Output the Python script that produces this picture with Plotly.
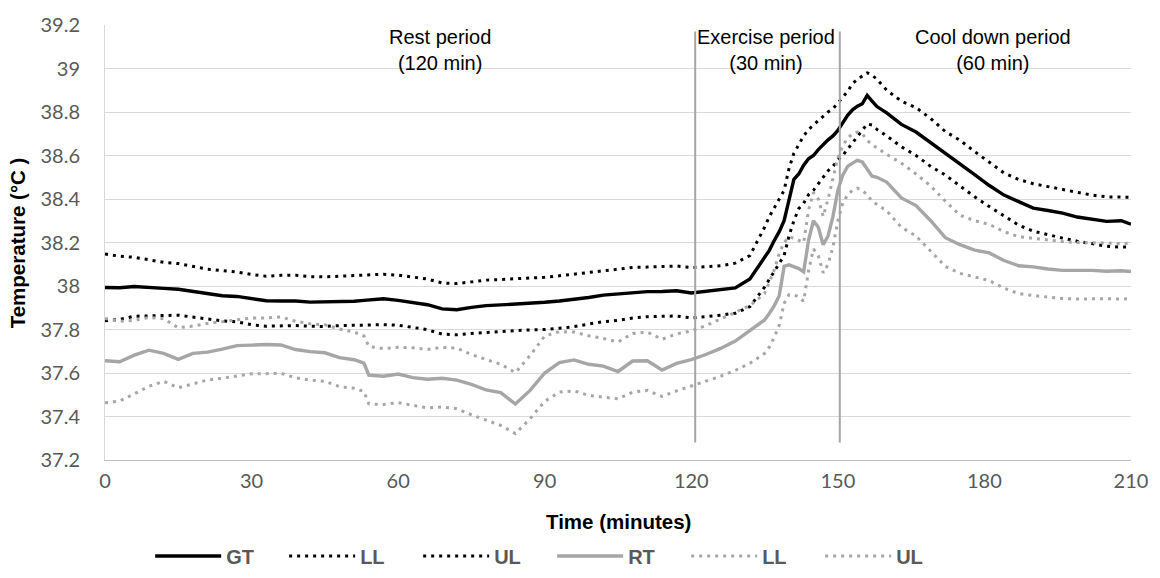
import plotly.graph_objects as go

# ---------------- data ----------------
time_min = [0, 3, 6, 9, 12, 15, 18, 21, 24, 27, 30, 33, 36, 39, 42, 45, 48, 51, 53,
            54, 57, 60, 63, 66, 69, 72, 75, 78, 81, 84, 87, 90, 93, 96, 99, 102, 105,
            108, 111, 114, 117, 120, 123, 126, 129, 132, 135,
            136, 137, 138, 139, 140, 141, 142, 143, 144, 145, 146, 147, 148, 149, 150,
            151, 152, 153, 154, 155, 156, 157, 158,
            160, 163, 166, 169, 172, 175, 178, 181, 184, 187, 190, 193, 196, 199, 202,
            205, 208, 210]

gt = [37.993, 37.992, 37.998, 37.992, 37.989, 37.985, 37.975, 37.964, 37.955, 37.952,
      37.942, 37.932, 37.931, 37.931, 37.926, 37.927, 37.929, 37.930, 37.934,
      37.936, 37.941, 37.934, 37.925, 37.914, 37.895, 37.891, 37.902, 37.910, 37.913,
      37.916, 37.920, 37.925, 37.931, 37.938, 37.947, 37.958, 37.963,
      37.971, 37.974, 37.975, 37.978, 37.968, 37.975, 37.984, 37.991, 38.032, 38.130,
      38.165, 38.210, 38.250, 38.300, 38.400, 38.490, 38.515, 38.555, 38.585, 38.600,
      38.627, 38.650, 38.672, 38.690, 38.715,
      38.750, 38.785, 38.810, 38.827, 38.838, 38.876, 38.850, 38.825,
      38.796, 38.743, 38.708, 38.660, 38.610, 38.560, 38.512, 38.462, 38.418, 38.388,
      38.358, 38.347, 38.335, 38.317, 38.308, 38.297, 38.300, 38.284]

gt_ll = [37.840, 37.846, 37.861, 37.863, 37.866, 37.866, 37.857, 37.848, 37.840, 37.835,
         37.822, 37.815, 37.816, 37.818, 37.815, 37.814, 37.818, 37.820, 37.821,
         37.822, 37.822, 37.820, 37.810, 37.799, 37.779, 37.776, 37.782, 37.787, 37.792,
         37.795, 37.798, 37.800, 37.806, 37.813, 37.825, 37.836, 37.842,
         37.853, 37.859, 37.859, 37.862, 37.853, 37.858, 37.866, 37.875, 37.905, 37.995,
         38.030, 38.070, 38.100, 38.140, 38.230, 38.300, 38.356, 38.380, 38.420, 38.440,
         38.470, 38.500, 38.530, 38.550, 38.580,
         38.600, 38.630, 38.655, 38.690, 38.720, 38.745, 38.740, 38.720,
         38.690, 38.640, 38.600, 38.550, 38.510, 38.458, 38.410, 38.365, 38.322, 38.280,
         38.252, 38.235, 38.220, 38.206, 38.193, 38.183, 38.179, 38.179]

gt_ul = [38.147, 38.137, 38.132, 38.120, 38.109, 38.103, 38.090, 38.077, 38.071, 38.064,
         38.053, 38.045, 38.049, 38.049, 38.043, 38.042, 38.045, 38.049, 38.051,
         38.052, 38.054, 38.050, 38.042, 38.032, 38.014, 38.011, 38.019, 38.027, 38.030,
         38.033, 38.036, 38.040, 38.047, 38.055, 38.064, 38.070, 38.078,
         38.085, 38.087, 38.088, 38.092, 38.085, 38.088, 38.093, 38.105, 38.140, 38.270,
         38.320, 38.360, 38.400, 38.440, 38.540, 38.610, 38.650, 38.690, 38.720, 38.740,
         38.760, 38.780, 38.800, 38.815, 38.840,
         38.870, 38.895, 38.930, 38.950, 38.965, 38.980, 38.970, 38.950,
         38.900, 38.850, 38.820, 38.770, 38.710, 38.670, 38.618, 38.568, 38.520, 38.490,
         38.470, 38.457, 38.445, 38.430, 38.418, 38.410, 38.410, 38.408]

rt = [37.656, 37.652, 37.682, 37.705, 37.690, 37.663, 37.690, 37.696, 37.710, 37.726,
      37.728, 37.731, 37.729, 37.708, 37.698, 37.693, 37.671, 37.661, 37.645,
      37.590, 37.585, 37.595, 37.579, 37.571, 37.576, 37.567, 37.548, 37.522, 37.510,
      37.457, 37.520, 37.600, 37.648, 37.660, 37.640, 37.632, 37.607,
      37.655, 37.656, 37.614, 37.644, 37.662, 37.685, 37.713, 37.747, 37.794, 37.844,
      37.875, 37.910, 37.955, 38.090, 38.097, 38.090, 38.080, 38.065, 38.210, 38.300,
      38.270, 38.190, 38.230, 38.320, 38.440,
      38.510, 38.550, 38.565, 38.578, 38.570, 38.540, 38.505, 38.500,
      38.478, 38.405, 38.370, 38.300, 38.222, 38.190, 38.165, 38.152, 38.117, 38.093,
      38.088, 38.078, 38.072, 38.072, 38.072, 38.068, 38.070, 38.067]

rt_ll = [37.463, 37.471, 37.504, 37.539, 37.562, 37.532, 37.550, 37.568, 37.576, 37.588,
         37.597, 37.597, 37.599, 37.578, 37.567, 37.562, 37.537, 37.530, 37.515,
         37.458, 37.455, 37.464, 37.452, 37.439, 37.444, 37.436, 37.408, 37.382, 37.359,
         37.321, 37.390, 37.470, 37.512, 37.518, 37.497, 37.489, 37.481,
         37.512, 37.520, 37.492, 37.518, 37.540, 37.562, 37.585, 37.612, 37.645, 37.690,
         37.720, 37.765, 37.820, 37.920, 37.960, 37.960, 37.950, 37.930, 38.070, 38.170,
         38.140, 38.060, 38.100, 38.180, 38.300,
         38.380, 38.420, 38.440, 38.450, 38.440, 38.420, 38.390, 38.375,
         38.345, 38.270, 38.230, 38.160, 38.090, 38.058, 38.043, 38.025, 37.990, 37.965,
         37.956, 37.948, 37.943, 37.940, 37.942, 37.942, 37.940, 37.942]

rt_ul = [37.851, 37.838, 37.842, 37.855, 37.850, 37.808, 37.816, 37.828, 37.836, 37.846,
         37.853, 37.853, 37.858, 37.838, 37.826, 37.822, 37.802, 37.788, 37.770,
         37.722, 37.712, 37.718, 37.716, 37.708, 37.718, 37.715, 37.685, 37.662, 37.640,
         37.602, 37.680, 37.770, 37.790, 37.788, 37.771, 37.759, 37.743,
         37.782, 37.788, 37.755, 37.780, 37.793, 37.818, 37.848, 37.878, 37.910, 37.965,
         38.020, 38.075, 38.150, 38.200, 38.225, 38.220, 38.210, 38.200, 38.350, 38.430,
         38.400, 38.320, 38.400, 38.500, 38.590,
         38.645, 38.680, 38.700, 38.708, 38.700, 38.670, 38.650, 38.635,
         38.605, 38.565, 38.515, 38.460, 38.390, 38.325, 38.300, 38.283, 38.250, 38.227,
         38.220, 38.210, 38.204, 38.200, 38.200, 38.198, 38.195, 38.197]

series_names = ["GT", "LL", "UL", "RT", "LL", "UL"]

phase_boundaries = [120.8, 150.4]
boundary_span = [37.28, 39.17]

phase_labels = ["Rest period<br>(120 min)",
                "Exercise period<br>(30 min)",
                "Cool down period<br>(60 min)"]
phase_label_x = [68.6, 135.2, 181.8]

x_ticks = [0, 30, 60, 90, 120, 150, 180, 210]
y_ticks = [37.2, 37.4, 37.6, 37.8, 38.0, 38.2, 38.4, 38.6, 38.8, 39.0, 39.2]
y_tick_text = ["37.2", "37.4", "37.6", "37.8", "38", "38.2", "38.4", "38.6", "38.8",
               "39", "39.2"]

# ---------------- styling ----------------
BLACK = "#000000"
GRAY = "#A6A6A6"
DOT = "3px,5px"

fig = go.Figure()

styles = [
    (gt, BLACK, "solid", 3.4),
    (gt_ll, BLACK, DOT, 3),
    (gt_ul, BLACK, DOT, 3),
    (rt, GRAY, "solid", 3.4),
    (rt_ll, GRAY, DOT, 3),
    (rt_ul, GRAY, DOT, 3),
]
for (vals, col, dash, w), name in zip(styles, series_names):
    fig.add_trace(go.Scatter(
        x=time_min, y=vals, mode="lines", name=name,
        line=dict(color=col, dash=dash, width=w),
        hoverinfo="skip",
    ))

for xb in phase_boundaries:
    fig.add_shape(type="line", xref="x", yref="y", x0=xb, x1=xb,
                  y0=boundary_span[0], y1=boundary_span[1],
                  line=dict(color=GRAY, width=2), layer="above")

ann_font = dict(family="Liberation Sans, Arial, sans-serif", size=20, color="#000000")
for txt, xa in zip(phase_labels, phase_label_x):
    fig.add_annotation(x=xa, xref="x", y=39.085, yref="y", text=txt, showarrow=False,
                       font=ann_font, xanchor="center", yanchor="middle",
                       align="center", borderpad=0)

title_font = dict(family="Liberation Sans, Arial, sans-serif", size=20.5, color="#000000")
fig.add_annotation(text="<b>Time (minutes)</b>", x=0.5, xref="paper",
                   y=-0.142, yref="paper", showarrow=False, font=title_font,
                   xanchor="center", yanchor="middle")
fig.add_annotation(text="<b>Temperature (°C )</b>", x=-0.085, xref="paper",
                   y=0.5, yref="paper", showarrow=False, font=title_font,
                   textangle=-90, xanchor="center", yanchor="middle")

tick_font = dict(family="Lato, Open Sans, sans-serif", size=20, color="#595959")

fig.update_layout(
    width=1160, height=578,
    margin=dict(l=105, r=27, t=22, b=118, pad=0),
    paper_bgcolor="white", plot_bgcolor="white",
    showlegend=True,
    legend=dict(orientation="h", x=0.044, xanchor="left", xref="paper",
                y=0.038, yanchor="middle", yref="container",
                font=dict(family="Liberation Sans, Arial, sans-serif", size=20,
                          color="#595959", weight="bold"),
                itemwidth=66, entrywidth=53, entrywidthmode="pixels",
                bgcolor="rgba(0,0,0,0)", tracegroupgap=0),
    xaxis=dict(range=[0, 210], tickmode="array", tickvals=x_ticks,
               showgrid=False, zeroline=False, showline=True, linecolor="#BFBFBF",
               linewidth=1, ticks="", tickfont=tick_font, ticklabelstandoff=3),
    yaxis=dict(range=[37.2, 39.2], tickmode="array", tickvals=y_ticks,
               ticktext=y_tick_text, showgrid=True, gridcolor="#D9D9D9", gridwidth=1,
               zeroline=False, showline=True, linecolor="#D9D9D9", linewidth=1,
               ticks="", tickfont=tick_font, ticklabelstandoff=20),
)

fig.write_html("out.html")
